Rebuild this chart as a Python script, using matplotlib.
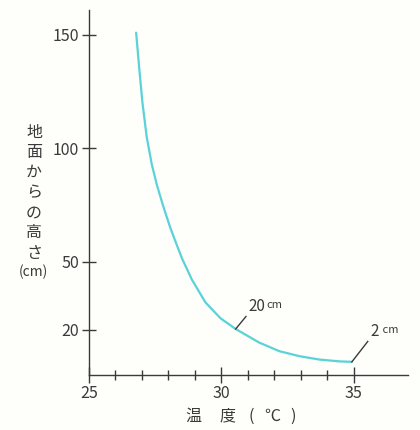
import matplotlib
matplotlib.use('Agg')
import matplotlib.pyplot as plt

plt.rcParams['font.family'] = ['Noto Sans CJK JP', 'DejaVu Sans']

# 温度 (℃) と 地面からの高さ (cm)
temp = [26.78, 26.90, 27.02, 27.18, 27.37, 27.56, 27.79, 28.04, 28.23, 28.51,
        28.89, 29.40, 29.97, 30.54, 31.43, 32.19, 32.95, 33.71, 34.47, 34.93]
height = [151.0, 135.0, 120.0, 105.0, 93.0, 84.0, 75.0, 66.0, 60.0, 51.5,
          42.0, 32.0, 25.0, 20.3, 14.3, 10.5, 8.3, 6.8, 6.0, 5.8]

x_ticks = [25, 30, 35]
x_minor = [26, 27, 28, 29, 31, 32, 33, 34]
y_ticks = [20, 50, 100, 150]

# 注記 (ラベル, 曲線上の点, 引出線の端)
notes = [('20', 'cm', (30.54, 20.3), (30.93, 25.8)),
         ('2', ' cm', (34.93, 5.8), (35.53, 14.8))]

ink = '#3a3a3a'
fig = plt.figure(figsize=(4.2, 4.3), dpi=100, facecolor='#fefefb')
ax = fig.add_axes([89 / 420, 1 - 375 / 430, (408 - 89) / 420, (375 - 10) / 430])
ax.set_facecolor('#fefefb')

ax.plot(temp, height, color='#5ad2d8', lw=1.6, solid_capstyle='round',
        solid_joinstyle='round')

ax.set_xlim(25, 37.05)
ax.set_ylim(0, 161)
for s in ['top', 'right']:
    ax.spines[s].set_visible(False)
for s in ['left', 'bottom']:
    ax.spines[s].set_color(ink)
    ax.spines[s].set_linewidth(1.0)

ax.set_xticks(x_ticks)
ax.set_xticks(x_minor, minor=True)
ax.set_yticks(y_ticks)
ax.tick_params(axis='x', which='major', direction='inout', length=11, width=1.0,
               color=ink, labelcolor=ink, labelsize=11.5, pad=2)
ax.tick_params(axis='x', which='minor', direction='inout', length=7, width=1.0, color=ink)
ax.tick_params(axis='y', direction='inout', length=10, width=1.0,
               color=ink, labelcolor=ink, labelsize=11.5, pad=2)

for big, small, (x0, y0), (x1, y1) in notes:
    ax.plot([x0, x1], [y0, y1], color=ink, lw=1.0)
    t = ax.text(x1 + 0.1, y1 + 4.5, big, color=ink, fontsize=11, ha='left', va='center')
    fig.canvas.draw()
    bb = t.get_window_extent()
    fig.text(bb.x1 / 420 + 0.003, (bb.y1 - 2) / 430, small, color=ink, fontsize=8,
             ha='left', va='top')

# 縦書きの軸ラベル
ylabel = '地面からの高さ'
for i, ch in enumerate(ylabel):
    fig.text(34 / 420, 1 - (132 + 20.2 * i) / 430, ch, color=ink, fontsize=11.5,
             ha='center', va='center')
fig.text(33 / 420, 1 - 272 / 430, '(cm)', color=ink, fontsize=10,
         ha='center', va='center')

# 横軸ラベル
for ch, px in [('温', 193), ('度', 227), ('(', 251), ('℃', 272), (')', 293)]:
    fig.text(px / 420, 1 - 416 / 430, ch, color=ink, fontsize=11.5,
             ha='center', va='center')

fig.savefig('out.png', dpi=100, facecolor=fig.get_facecolor())
